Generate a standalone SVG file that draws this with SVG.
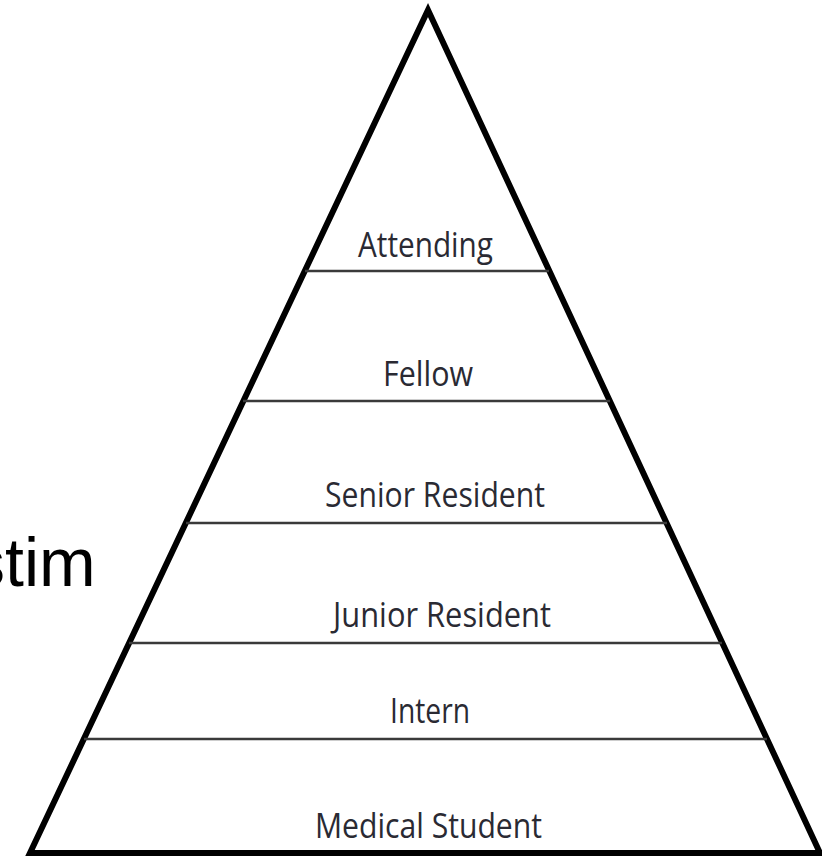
<svg xmlns="http://www.w3.org/2000/svg" width="822" height="858" viewBox="0 0 822 858">
<style>
.lvl{stroke:#3a3a3a;stroke-width:2.5;fill:none}
.lbl{font-family:"Open Sans","Noto Sans",sans-serif;font-size:35px;fill:#2a2a33;text-anchor:start}
.big{font-family:"Liberation Sans",Arial,sans-serif;font-size:68px;fill:#000}
</style>
<rect width="822" height="858" fill="#fff"/>
<text class="big" x="-29" y="586">stim</text>
<g id="pyramid">
<polygon points="428,10 30,853 820,853" fill="none" stroke="#000" stroke-width="6" stroke-linejoin="miter"/>
</g>
<g id="connectors">
<line class="lvl" x1="305" y1="271" x2="549" y2="271"/>
<line class="lvl" x1="243" y1="401" x2="610" y2="401"/>
<line class="lvl" x1="186" y1="523" x2="667" y2="523"/>
<line class="lvl" x1="129" y1="643" x2="722" y2="643"/>
<line class="lvl" x1="84" y1="739" x2="767" y2="739"/>
</g>
<g id="attending"><text class="lbl" x="358" y="257" textLength="135" lengthAdjust="spacingAndGlyphs">Attending</text></g>
<g id="fellow"><text class="lbl" x="383" y="386" textLength="90" lengthAdjust="spacingAndGlyphs">Fellow</text></g>
<g id="senior-resident"><text class="lbl" x="325" y="507" textLength="220" lengthAdjust="spacingAndGlyphs">Senior Resident</text></g>
<g id="junior-resident"><text class="lbl" x="333" y="627" textLength="218" lengthAdjust="spacingAndGlyphs">Junior Resident</text></g>
<g id="intern"><text class="lbl" x="390" y="723" textLength="80" lengthAdjust="spacingAndGlyphs">Intern</text></g>
<g id="medical-student"><text class="lbl" x="315" y="838" textLength="227" lengthAdjust="spacingAndGlyphs">Medical Student</text></g>
</svg>
